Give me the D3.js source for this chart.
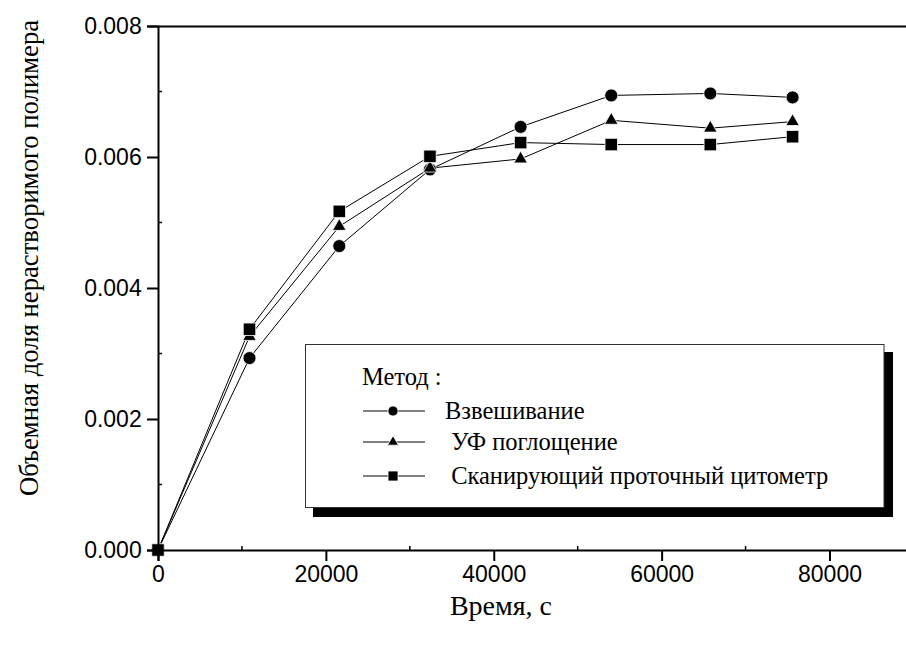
<!DOCTYPE html>
<html>
<head>
<meta charset="utf-8">
<script src="https://cdn.jsdelivr.net/npm/d3@7"></script>
<style>
  body { margin: 0; background: #fff; }
  svg { display: block; }
  text.serif { font-family: "Times New Roman", serif; fill: #000; }
  text.sans { font-family: "Liberation Sans", Arial, sans-serif; fill: #000; }
</style>
</head>
<body>
<svg id="canvas"></svg>
<script>
// Data
let times = [0, 10900, 21600, 32400, 43200, 54000, 65800, 75600];
let weighing = [0, 0.00293, 0.00464, 0.00581, 0.00646, 0.00694, 0.00697, 0.00691];
let uvAbsorb = [0, 0.00326, 0.00494, 0.00583, 0.00597, 0.00656, 0.00644, 0.00654];
let cytometer = [0, 0.00337, 0.00517, 0.00601, 0.00622, 0.00619, 0.00619, 0.00631];

let seriesNames = ["Взвешивание", " УФ поглощение", " Сканирующий проточный цитометр"];
let seriesShapes = ["circle", "triangle", "square"];
let xTicks = [0, 20000, 40000, 60000, 80000];
let xMinorTicks = [10000, 30000, 50000, 70000];
let yTicks = [0, 0.002, 0.004, 0.006, 0.008];
let yMinorTicks = [0.001, 0.003, 0.005, 0.007];

let width = 906;
let height = 654;

let canvas = d3.select("#canvas").attr("width", width).attr("height", height);

let xScale = d3.scaleLinear().domain([0, 90000]).range([158, 158 + 90000 * (671.5 / 80000)]);
let yScale = d3.scaleLinear().domain([0, 0.008]).range([550, 26]);

let symbolFor = (shape, big) => {
  if (shape === "circle") return d3.symbol(d3.symbolCircle, big ? 133 : 80)();
  if (shape === "triangle") return d3.symbol(d3.symbolTriangle, big ? 80 : 52)();
  return d3.symbol(d3.symbolSquare, big ? 156 : 100)();
};

// axes
let drawAxes = () => {
  let xAxis = d3.axisBottom(xScale).tickValues(xTicks).tickFormat(d3.format("d")).tickSizeOuter(0).tickSize(11);
  let yAxis = d3.axisLeft(yScale).tickValues(yTicks).tickFormat(d3.format(".3f")).tickSizeOuter(0).tickSize(11);

  let gx = canvas.append("g").attr("transform", "translate(0," + yScale(0) + ")").call(xAxis);
  let gy = canvas.append("g").attr("transform", "translate(" + xScale(0) + ",0)").call(yAxis);

  // minor ticks point inside
  gx.selectAll(".minor").data(xMinorTicks).enter().append("line")
    .attr("x1", (d) => xScale(d)).attr("x2", (d) => xScale(d))
    .attr("y1", 0).attr("y2", -4).attr("stroke", "#000").attr("stroke-width", 1.5);
  gy.selectAll(".minor").data(yMinorTicks).enter().append("line")
    .attr("y1", (d) => yScale(d)).attr("y2", (d) => yScale(d))
    .attr("x1", 0).attr("x2", 4).attr("stroke", "#000").attr("stroke-width", 1.5);

  [gx, gy].forEach((g) => {
    g.select(".domain").attr("stroke-width", 2);
    g.selectAll(".tick line").attr("stroke-width", 2);
    g.selectAll(".tick text").attr("class", "sans").style("font-size", "23px");
  });
  gx.selectAll(".tick text").attr("dy", "0.8em");
  gy.selectAll(".tick text").attr("dx", "-0.1em");

  // top frame line
  let top = d3.axisTop(xScale).tickValues([]).tickSizeOuter(0);
  canvas.append("g").attr("transform", "translate(0," + yScale(0.008) + ")").call(top)
    .select(".domain").attr("stroke-width", 2);

  canvas.append("text").attr("class", "serif")
    .attr("transform", "translate(29," + 258 + ") rotate(-90)")
    .attr("text-anchor", "middle").attr("dominant-baseline", "central")
    .style("font-size", "26.7px")
    .text("Объемная доля нерастворимого полимера");

  canvas.append("text").attr("class", "serif")
    .attr("x", 501).attr("y", 615)
    .attr("text-anchor", "middle")
    .style("font-size", "28px")
    .text("Время, с");
};

let drawSeries = () => {
  let allSeries = [weighing, uvAbsorb, cytometer];
  let line = d3.line().x((d) => xScale(d[0])).y((d) => yScale(d[1]));

  allSeries.forEach((vals, i) => {
    let pts = times.map((t, j) => [t, vals[j]]);
    canvas.append("path").datum(pts).attr("d", line)
      .attr("fill", "none").attr("stroke", "#000").attr("stroke-width", 1);
  });

  allSeries.forEach((vals, i) => {
    let pts = times.map((t, j) => [t, vals[j]]);
    canvas.append("g").selectAll("path").data(pts).enter().append("path")
      .attr("d", symbolFor(seriesShapes[i], true))
      .attr("transform", (d) => "translate(" + xScale(d[0]) + "," + yScale(d[1]) + ")")
      .attr("fill", "#000").attr("stroke", "#fff").attr("stroke-width", 0.8);
  });
};

let drawLegend = () => {
  let lg = canvas.append("g");
  lg.append("rect").attr("x", 313).attr("y", 352).attr("width", 580).attr("height", 165).attr("fill", "#000");
  lg.append("rect").attr("x", 305.5).attr("y", 344.5).attr("width", 578.5).attr("height", 163)
    .attr("fill", "#fff").attr("stroke", "#333").attr("stroke-width", 1);

  lg.append("text").attr("class", "serif").attr("x", 362).attr("y", 385)
    .style("font-size", "24.5px").text("Метод :");

  let rowY = [411, 442, 476];
  seriesNames.forEach((name, i) => {
    let y = rowY[i];
    lg.append("line").attr("x1", 363).attr("x2", 425).attr("y1", y).attr("y2", y)
      .attr("stroke", "#000").attr("stroke-width", 1);
    lg.append("path").attr("d", symbolFor(seriesShapes[i], false))
      .attr("transform", "translate(393," + y + ")").attr("fill", "#000")
      .attr("stroke", "#fff").attr("stroke-width", 0.8);
    lg.append("text").attr("class", "serif").attr("x", 445).attr("y", y + 8)
      .style("font-size", "24.5px")
      .style("white-space", "pre")
      .text(name);
  });
};

drawSeries();
drawAxes();
drawLegend();
</script>
</body>
</html>
